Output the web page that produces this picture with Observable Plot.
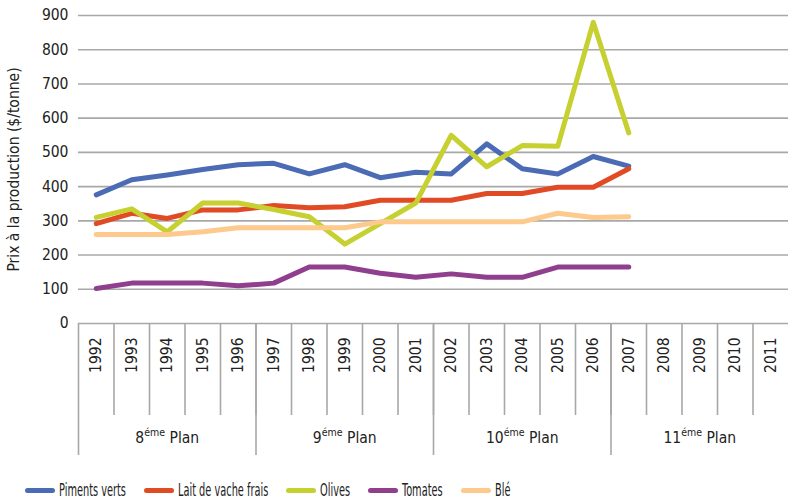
<!DOCTYPE html>
<html>
<head>
<meta charset="utf-8">
<script src="https://cdn.jsdelivr.net/npm/d3@7"></script>
<script src="https://cdn.jsdelivr.net/npm/@observablehq/plot@0.6"></script>
<style>
  body { margin: 0; background: #fff; }
  #chart { width: 788px; font-family: "DejaVu Sans Condensed", "DejaVu Sans", sans-serif; }
  .legend { display: flex; align-items: center; height: 40px; padding-left: 25px; font-size: 17px; color: #222; white-space: nowrap; }
  .legend .item { display: flex; align-items: center; margin-right: 18px; }
  .legend .sw { width: 30px; height: 5px; border-radius: 3px; margin-right: 4px; flex: none; }
  .legend .lab { display: inline-block; transform: scaleX(0.64); transform-origin: left center; }
</style>
</head>
<body>
<div id="chart"></div>
<script>
const years = [1992,1993,1994,1995,1996,1997,1998,1999,2000,2001,2002,2003,2004,2005,2006,2007,2008,2009,2010,2011];
const dataYears = [1992,1993,1994,1995,1996,1997,1998,1999,2000,2001,2002,2003,2004,2005,2006,2007];
const seriesNames = ["Piments verts","Lait de vache frais","Olives","Tomates","Blé"];
const colors = ["#4b6bb4","#e04a24","#c6d030","#8f3f8e","#fdc98c"];
const piments = [376,420,434,450,464,468,437,464,426,442,437,525,452,437,488,460];
const lait    = [292,322,307,332,332,345,338,341,360,360,360,380,380,398,398,452];
const olives  = [310,335,268,352,352,333,312,232,292,352,550,458,520,518,880,557];
const tomates = [102,118,118,118,110,118,165,165,147,135,145,135,135,165,165,165];
const ble     = [260,260,260,268,280,280,280,280,297,297,297,297,297,322,310,312];
const yTicks = [0,100,200,300,400,500,600,700,800,900];
const plans = ["8","9","10","11"];
const planFirst = [1992,1997,2002,2007];
const planLast  = [1996,2001,2006,2011];
const yLabel = "Prix à la production ($/tonne)";

const valueSets = [piments, lait, olives, tomates, ble];
const rows = [];
seriesNames.forEach((s, i) => dataYears.forEach((yr, j) => rows.push({series: s, year: yr, value: valueSets[i][j]})));

const separators = years.slice(1).map(y => y - 0.5);
const planBounds = planFirst.map(y => y - 0.5);
const planCenters = planFirst.map((f, i) => (f + planLast[i]) / 2);
const planLabel = new Map(planCenters.map((c, i) => [c, plans[i] + "éme Plan"]));

const gray = "#a8a8a8";
const font = '"DejaVu Sans Condensed", "DejaVu Sans", sans-serif';

const chart = Plot.plot({
  width: 788, height: 470,
  marginLeft: 78, marginRight: 0, marginTop: 15, marginBottom: 147,
  style: {fontFamily: font, fontSize: "15.5px", color: "#222", background: "#fff"},
  x: {type: "linear", domain: [1991.5, 2011.5], axis: null},
  y: {domain: [0, 900], axis: null},
  color: {domain: seriesNames, range: colors},
  marks: [
    Plot.gridY(yTicks.slice(1), {stroke: gray, strokeOpacity: 1, strokeWidth: 1.6}),
    Plot.ruleY([0], {stroke: gray, strokeWidth: 1.6}),
    Plot.axisY({ticks: yTicks, tickSize: 0, tickPadding: 10, label: null, fontSize: 15.5}),
    Plot.axisX({ticks: separators, tickSize: 92, tickFormat: () => "", stroke: gray, strokeWidth: 1.6, label: null}),
    Plot.axisX({ticks: planBounds, tickSize: 132, tickFormat: () => "", stroke: gray, strokeWidth: 1.6, label: null}),
    Plot.axisX({ticks: years, tickSize: 0, tickRotate: -90, tickPadding: 14, tickFormat: d => String(d), label: null, fontSize: 15.5}),
    Plot.axisX({ticks: planCenters, tickSize: 0, tickPadding: 108, tickFormat: d => planLabel.get(d), label: null, fontSize: 15.5}),
    Plot.line(rows, {x: "year", y: "value", z: "series", stroke: "series", strokeWidth: 5, strokeLinecap: "round", strokeLinejoin: "round"}),
    Plot.text([yLabel], {frameAnchor: "left", textAnchor: "middle", dx: -64, rotate: -90, fontSize: 15.5, fill: "#222", letterSpacing: -0.6})
  ]
});

// superscript for "éme"
d3.select(chart).selectAll("text").each(function() {
  const t = this.textContent;
  const m = /^(\d+)éme Plan$/.exec(t);
  if (!m) return;
  const el = d3.select(this);
  el.text(null);
  el.append("tspan").text(m[1]);
  el.append("tspan").attr("font-size", 10.5).attr("dy", -7).text("éme");
  el.append("tspan").attr("dy", 7).text(" Plan");
});

const root = document.getElementById("chart");
root.appendChild(chart);

const legend = document.createElement("div");
legend.className = "legend";
root.appendChild(legend);
seriesNames.forEach((s, i) => {
  const item = document.createElement("div");
  item.className = "item";
  const sw = document.createElement("span");
  sw.className = "sw";
  sw.style.background = colors[i];
  const lab = document.createElement("span");
  lab.className = "lab";
  lab.textContent = s;
  item.appendChild(sw); item.appendChild(lab);
  legend.appendChild(item);
  const w = lab.offsetWidth;
  lab.style.marginRight = (-(1 - 0.64) * w) + "px";
});
</script>
</body>
</html>
